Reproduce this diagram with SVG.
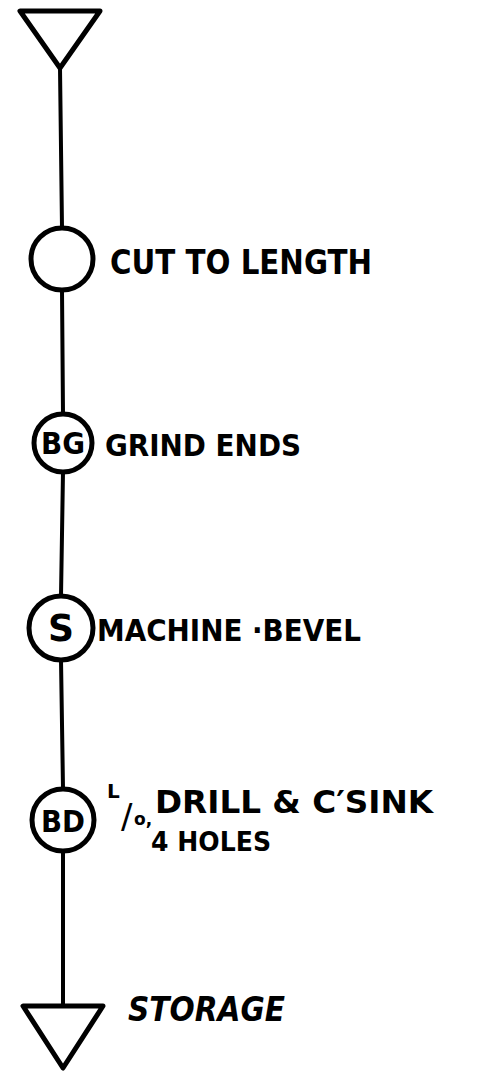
<svg xmlns="http://www.w3.org/2000/svg" width="495" height="1073" viewBox="0 0 495 1073">
  <style>
    .bg { fill: #ffffff; }
    .sym { fill: none; stroke: #000; stroke-width: 5; stroke-linejoin: round; stroke-linecap: round; }
    .flow { fill: none; stroke: #000; stroke-width: 4; stroke-linecap: round; }
    .lbl { font-family: "DejaVu Sans", "Liberation Sans", sans-serif; font-weight: bold; fill: #000; }
    .code { font-family: "DejaVu Sans", "Liberation Sans", sans-serif; font-weight: bold; fill: #000; text-anchor: middle; }
  </style>
  <rect class="bg" x="0" y="0" width="495" height="1073"/>

  <!-- flow line joining the symbols -->
  <g id="connectors">
    <line class="flow" x1="60" y1="68" x2="62" y2="228"/>
    <line class="flow" x1="62" y1="290" x2="63" y2="414"/>
    <line class="flow" x1="63" y1="472" x2="61" y2="596"/>
    <line class="flow" x1="61" y1="660" x2="63" y2="788"/>
    <line class="flow" x1="63" y1="851" x2="63" y2="1006"/>
  </g>

  <!-- incoming material (storage) -->
  <g id="start">
    <polygon class="sym" points="20,11 100,11 60,68"/>
  </g>

  <g id="cut">
    <circle class="sym" cx="62" cy="259" r="31"/>
    <text class="lbl" x="110" y="274" font-size="34" textLength="262" lengthAdjust="spacingAndGlyphs">CUT TO LENGTH</text>
  </g>

  <g id="grind">
    <circle class="sym" cx="63" cy="443" r="29"/>
    <text class="code" x="63" y="454" font-size="30" textLength="44" lengthAdjust="spacingAndGlyphs">BG</text>
    <text class="lbl" x="105" y="456" font-size="31" textLength="196" lengthAdjust="spacingAndGlyphs">GRIND ENDS</text>
  </g>

  <g id="bevel">
    <circle class="sym" cx="61" cy="628" r="32"/>
    <text class="code" x="61" y="641" font-size="37" textLength="26" lengthAdjust="spacingAndGlyphs">S</text>
    <text class="lbl" x="97" y="641" font-size="30" textLength="264" lengthAdjust="spacingAndGlyphs">MACHINE ·BEVEL</text>
  </g>

  <g id="drill">
    <circle class="sym" cx="63" cy="820" r="31"/>
    <text class="code" x="63" y="832" font-size="30" textLength="44" lengthAdjust="spacingAndGlyphs">BD</text>
    <text class="lbl"><tspan x="107" y="798" font-size="20">L</tspan><tspan x="121" y="828" font-size="34" font-weight="normal">/</tspan><tspan x="134" y="825" font-size="17">o,</tspan></text>
    <text class="lbl" x="155" y="813" font-size="32" textLength="278" lengthAdjust="spacingAndGlyphs">DRILL &amp; C′SINK</text>
    <text class="lbl" x="151" y="851" font-size="26" textLength="120" lengthAdjust="spacingAndGlyphs">4 HOLES</text>
  </g>

  <g id="storage">
    <polygon class="sym" points="23,1006 103,1006 63,1068"/>
    <text class="lbl" x="128" y="1021" font-size="34" font-style="italic" textLength="157" lengthAdjust="spacingAndGlyphs">STORAGE</text>
  </g>
</svg>
